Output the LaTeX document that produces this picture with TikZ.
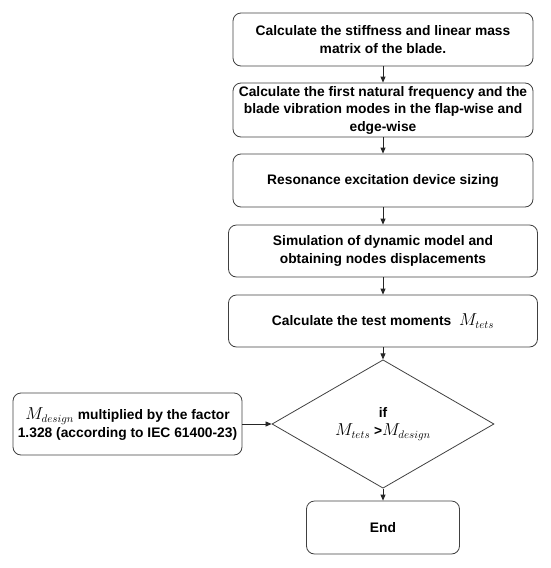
\documentclass[tikz,border=0pt]{standalone}
\usepackage{amsmath}
\usepackage{fontspec}
\setmainfont{Liberation Sans}
\usetikzlibrary{shapes.geometric, arrows.meta}

\newcommand{\Mtets}{{\fontsize{16}{17}\selectfont$M_{tets}$}}
\newcommand{\Mdesign}{{\fontsize{16}{17}\selectfont$M_{design}$}}

\begin{document}
\begin{tikzpicture}[x=1pt, y=-1pt,
    stepbox/.style={draw=black!75, rounded corners=8pt, line width=0.8pt, align=center, inner sep=1pt,
        font=\fontsize{13.8}{17.5}\selectfont\bfseries},
    decision/.style={diamond, draw=black!75, line width=0.8pt, align=center, inner sep=0pt,
        font=\fontsize{13.8}{18}\selectfont\bfseries},
    flow/.style={draw=black!85, line width=0.8pt, -{Triangle[length=6pt, width=5pt]}}]
    \useasboundingbox (0,0) rectangle (550,568);

    % Main steps
    \node[stepbox, minimum width=300pt, minimum height=53pt] (stiff) at (383,39.5) {Calculate the stiffness and linear mass\\matrix of the blade.};
    \node[stepbox, minimum width=300pt, minimum height=54pt] (freq) at (383,110) {Calculate the first natural frequency and the\\blade vibration modes in the flap-wise and\\edge-wise};
    \node[stepbox, minimum width=300pt, minimum height=53pt] (sizing) at (383,180.5) {Resonance excitation device sizing};
    \node[stepbox, minimum width=309pt, minimum height=52pt] (sim) at (383,251) {Simulation of dynamic model and\\obtaining nodes displacements};
    \node[stepbox, minimum width=309pt, minimum height=52pt] (moment) at (383,321) {Calculate the test moments~~\Mtets};

    % Check against the design moment
    \node[decision, minimum width=222pt, minimum height=114pt] (check) at (383,424) {if\\\Mtets\ >\Mdesign};
    \node[stepbox, minimum width=229pt, minimum height=62pt] (design) at (127.5,424) {\Mdesign\ multiplied by the factor\\1.328 (according to IEC 61400-23)};
    \node[stepbox, minimum width=153pt, minimum height=53pt] (end) at (383,527.5) {End};

    % Connectors
    \draw[flow] (stiff) -- (freq);
    \draw[flow] (freq) -- (sizing);
    \draw[flow] (sizing) -- (sim);
    \draw[flow] (sim) -- (moment);
    \draw[flow] (moment) -- (check);
    \draw[flow] (design) -- (check);
    \draw[flow] (check) -- (end);
\end{tikzpicture}
\end{document}
